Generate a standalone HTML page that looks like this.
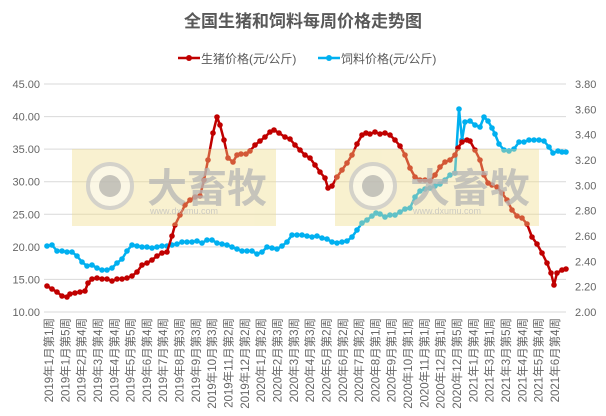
<!DOCTYPE html>
<html><head><meta charset="utf-8"><style>
html,body{margin:0;padding:0;background:#fff}
svg{display:block;font-family:"Liberation Sans","Noto Sans CJK SC",sans-serif}
</style></head><body>
<svg id="s" width="606" height="416" viewBox="0 0 606 416">
<text x="303" y="27" text-anchor="middle" font-size="17" font-weight="bold" fill="#595959">全国生猪和饲料每周价格走势图</text>
<line x1="178" y1="58" x2="200" y2="58" stroke="#c00000" stroke-width="2.5"/><circle cx="189" cy="58" r="3" fill="#c00000"/>
<text x="201" y="63" font-size="12" fill="#595959">生猪价格(元/公斤)</text>
<line x1="318" y1="58" x2="340" y2="58" stroke="#00b0f0" stroke-width="2.5"/><circle cx="329" cy="58" r="3" fill="#00b0f0"/>
<text x="341" y="63" font-size="12" fill="#595959">饲料价格(元/公斤)</text>
<g id="grid" stroke="#d9d9d9" stroke-width="1"></g>
<g id="lab" font-size="11" fill="#666"></g>
<g id="ser"></g>
<g opacity="0.4">
<rect x="72" y="149" width="204" height="77" fill="#f0dd8a"/>
<rect x="335" y="149" width="204" height="77" fill="#f0dd8a"/>
</g>
<g id="wm" opacity="0.75"></g>
</svg>
<script>
var NS="http://www.w3.org/2000/svg";
function el(t,a,p,txt){var e=document.createElementNS(NS,t);for(var k in a)e.setAttribute(k,a[k]);if(txt)e.textContent=txt;document.getElementById(p).appendChild(e);return e;}
var lv=["45.00","40.00","35.00","30.00","25.00","20.00","15.00","10.00"],rv=["3.80","3.60","3.40","3.20","3.00","2.80","2.60","2.40","2.20","2.00"];
for(var i=0;i<8;i++){var y=84+i*32.571;el("line",{x1:44,x2:566,y1:y,y2:y},"grid");el("text",{x:40,y:y+4,"text-anchor":"end"},"lab",lv[i]);}
for(var i=0;i<10;i++){var y=84+i*25.333;el("text",{x:575,y:y+4},"lab",rv[i]);}
var xl=["2019年1月第1周","2019年1月第5周","2019年2月第4周","2019年3月第4周","2019年4月第4周","2019年5月第5周","2019年6月第4周","2019年7月第4周","2019年8月第3周","2019年9月第3周","2019年10月第3周","2019年11月第2周","2019年12月第2周","2020年1月第2周","2020年2月第3周","2020年3月第3周","2020年4月第3周","2020年5月第2周","2020年6月第2周","2020年7月第2周","2020年8月第1周","2020年9月第1周","2020年10月第1周","2020年11月第1周","2020年12月第1周","2020年12月第5周","2021年1月第4周","2021年3月第1周","2021年3月第5周","2021年4月第4周","2021年5月第4周","2021年6月第4周"];
for(var i=0;i<32;i++){var x=49+i*16.32+4;el("text",{x:x,y:318,"text-anchor":"end",transform:"rotate(-90 "+x+" 318)","font-size":"11.5"},"lab",xl[i]);}
[0,263].forEach(function(d){
el("circle",{cx:110+d,cy:186,r:22,fill:"#fff","fill-opacity":0.6,stroke:"#c8c8c8","stroke-width":4},"wm");
el("circle",{cx:110+d,cy:186,r:11,fill:"#b5b5b5"},"wm");
el("text",{x:147+d,y:202,"font-size":40,"font-weight":"bold",fill:"#b5b5b5"},"wm","大畜牧");
el("text",{x:150+d,y:214,"font-size":9,fill:"#bdbdbd"},"wm","www.dxumu.com");});
var red=[[47,286],[52,289],[57,292],[62,296],[67,297],[70,294],[75,293],[80,292],[85,291],[88,283],[92,279],[97,278],[102,279],[107,279],[112,281],[117,279],[122,279],[127,278],[132,276],[137,272],[142,265],[147,263],[152,260],[157,256],[162,253],[167,252],[172,236],[175,225],[180,215],[185,205],[190,200],[195,197],[200,196],[204,180],[208,160],[213,133],[217,117],[220,125],[224,140],[228,158],[233,162],[237,155],[241,154],[246,154],[250,151],[255,145],[260,141],[265,137],[270,132],[274,130],[279,133],[285,137],[290,139],[295,145],[300,150],[305,155],[310,158],[315,165],[320,172],[325,178],[328,188],[332,186],[337,177],[342,170],[347,163],[352,155],[357,144],[362,135],[366,133],[370,134],[375,132],[380,134],[385,133],[390,135],[395,140],[400,146],[405,155],[410,168],[415,177],[420,180],[425,180],[430,181],[435,175],[440,167],[445,162],[450,160],[455,155],[458,148],[462,142],[467,140],[470,141],[475,150],[480,160],[484,175],[488,183],[492,185],[497,187],[502,193],[507,200],[512,210],[517,216],[522,218],[527,224],[532,237],[537,244],[542,253],[547,263],[551,273],[554,285],[557,273],[562,270],[566,269]];
var blue=[[47,246],[52,245],[57,251],[62,251],[67,252],[72,252],[77,256],[82,262],[87,266],[92,265],[97,268],[102,270],[107,270],[112,268],[117,263],[122,259],[127,251],[132,245],[137,246],[142,247],[147,247],[152,248],[157,247],[162,246],[167,246],[172,245],[177,244],[182,242],[187,242],[192,242],[197,241],[202,243],[207,240],[212,240],[217,243],[222,244],[227,245],[232,247],[237,249],[242,251],[247,251],[252,251],[257,254],[262,252],[267,247],[272,248],[277,249],[282,246],[287,242],[292,235],[297,235],[302,235],[307,236],[312,237],[317,236],[322,238],[327,239],[332,242],[337,243],[342,242],[347,241],[352,237],[357,230],[362,223],[367,220],[372,216],[376,213],[380,214],[385,217],[390,215],[395,215],[400,212],[405,209],[410,208],[415,197],[420,191],[425,189],[430,188],[435,186],[440,184],[445,180],[450,175],[455,173],[459,109],[462,140],[465,122],[470,121],[475,125],[480,127],[484,117],[488,121],[492,128],[495,134],[499,144],[504,150],[509,151],[514,149],[519,142],[524,142],[529,140],[534,140],[539,140],[544,141],[549,147],[553,153],[558,151],[562,152],[566,152]];
function draw(p,c){el("polyline",{points:p.map(function(q){return q.join(",")}).join(" "),fill:"none",stroke:c,"stroke-width":2.5,"stroke-linejoin":"round"},"ser");
p.forEach(function(q){el("circle",{cx:q[0],cy:q[1],r:2.8,fill:c},"ser");});}
draw(blue,"#00b0f0");draw(red,"#c00000");
</script>
</body></html>
